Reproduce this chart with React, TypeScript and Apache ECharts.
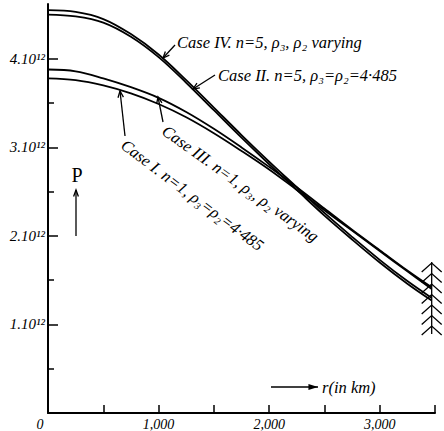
import React, { useEffect, useRef } from "react";
import * as echarts from "echarts";

// radius r (km)
const radii = [0, 250, 500, 750, 1000, 1250, 1500, 1750, 2000, 2250, 2500, 2750, 3000, 3250, 3470];
// pressure P in units of 10^12
const caseIV = [4.55, 4.53, 4.45, 4.28, 4.05, 3.76, 3.45, 3.14, 2.84, 2.55, 2.26, 1.99, 1.73, 1.49, 1.30];
const caseII = [4.5, 4.48, 4.41, 4.25, 4.02, 3.73, 3.42, 3.11, 2.81, 2.52, 2.23, 1.96, 1.7, 1.46, 1.27];
const caseIII = [3.88, 3.86, 3.78, 3.68, 3.56, 3.4, 3.21, 3.0, 2.78, 2.55, 2.31, 2.07, 1.84, 1.61, 1.42];
const caseI = [3.78, 3.76, 3.7, 3.61, 3.49, 3.34, 3.16, 2.96, 2.75, 2.52, 2.29, 2.06, 1.83, 1.6, 1.4];

const xLabelValues = [1000, 2000, 3000];
const xLabelTexts = ["1,000", "2,000", "3,000"];
const yLabelValues = [1, 2, 3, 4];
const yLabelTexts = ["1.10¹²", "2.10¹²", "3.10¹²", "4.10¹²"];
const yMinorValues = [0.5, 1.5, 2.5, 3.5];

const FONT = "'Liberation Serif', 'DejaVu Serif', serif";

function arrow(x1: number, y1: number, x2: number, y2: number, head = 7, spread = 0.4, filled = false) {
  const a = Math.atan2(y2 - y1, x2 - x1);
  const p1 = [x2 - head * Math.cos(a - spread), y2 - head * Math.sin(a - spread)];
  const p2 = [x2 - head * Math.cos(a + spread), y2 - head * Math.sin(a + spread)];
  const els: any[] = [
    { type: "line", shape: { x1, y1, x2, y2 }, style: { stroke: "#000", lineWidth: 1.3 }, silent: true },
  ];
  if (filled) {
    els.push({ type: "polygon", shape: { points: [p1, [x2, y2], p2] }, style: { fill: "#000" }, silent: true });
  } else {
    els.push({ type: "polyline", shape: { points: [p1, [x2, y2], p2] }, style: { stroke: "#000", lineWidth: 1.3, fill: null }, silent: true });
  }
  return els;
}

function label(text: string, x: number, y: number, size: number, rotDeg = 0, italic = true, align = "left") {
  return {
    type: "text",
    x,
    y,
    rotation: (rotDeg * Math.PI) / 180,
    silent: true,
    style: {
      text,
      fill: "#000",
      fontSize: size,
      fontFamily: FONT,
      fontStyle: italic ? "italic" : "normal",
      align,
      verticalAlign: "middle",
    },
  };
}

export default function App() {
  const ref = useRef<HTMLDivElement>(null);
  useEffect(() => {
    if (!ref.current) return;
    const chart = echarts.init(ref.current, null, { renderer: "svg" });
    const mk = (arr: number[]) => radii.map((r, i) => [r, arr[i]]);
    const lineSeries = (name: string, arr: number[]) => ({
      name,
      type: "line",
      data: mk(arr),
      smooth: 0.35,
      showSymbol: false,
      symbol: "none",
      xAxisIndex: 0,
      yAxisIndex: 0,
      lineStyle: { color: "#000", width: 1.8 },
      silent: true,
    });
    chart.setOption({
      animation: false,
      backgroundColor: "#fff",
      grid: { left: 48, right: 9, top: 4, bottom: 16, containLabel: false },
      xAxis: {
        type: "value",
        min: 0,
        max: 3500,
        interval: 500,
        axisLine: { show: true, lineStyle: { color: "#000", width: 2 } },
        axisTick: { show: true, inside: true, length: 8, lineStyle: { color: "#000", width: 1.5 } },
        splitLine: { show: false },
        axisLabel: {
          margin: 4,
          color: "#000",
          fontSize: 14,
          fontStyle: "italic",
          fontFamily: FONT,
          formatter: (v: number) => {
            const i = xLabelValues.indexOf(v);
            return i >= 0 ? xLabelTexts[i] : "";
          },
        },
      },
      yAxis: [
        {
          type: "value",
          min: 0,
          max: 4.62,
          interval: 1,
          position: "left",
          axisLine: { show: true, lineStyle: { color: "#000", width: 2 } },
          axisTick: { show: true, inside: true, length: 10, customValues: yLabelValues, lineStyle: { color: "#000", width: 1.5 } },
          splitLine: { show: false },
          axisLabel: {
            margin: 3,
            color: "#000",
            fontSize: 15,
            fontStyle: "italic",
            fontFamily: FONT,
            customValues: yLabelValues,
            formatter: (v: number) => {
              const i = yLabelValues.indexOf(v);
              return i >= 0 ? yLabelTexts[i] : "";
            },
          },
        },
        {
          type: "value",
          min: 0,
          max: 4.62,
          interval: 0.5,
          position: "left",
          axisLine: { show: false },
          axisTick: { show: true, inside: true, length: 6, customValues: yMinorValues, lineStyle: { color: "#000", width: 1.5 } },
          axisLabel: { show: false },
          splitLine: { show: false },
        },
      ],
      series: [
        lineSeries("Case IV", caseIV),
        lineSeries("Case II", caseII),
        lineSeries("Case III", caseIII),
        lineSeries("Case I", caseI),
      ],
    });

    const end = chart.convertToPixel({ xAxisIndex: 0, yAxisIndex: 0 }, [3470, 0]) as number[];
    const hx = end[0];
    const hatch: any[] = [
      { type: "line", shape: { x1: hx, y1: 262, x2: hx, y2: 334 }, style: { stroke: "#000", lineWidth: 1.3 }, silent: true },
    ];
    for (let k = 0; k < 7; k++) {
      const ay = 263 + k * 10.5;
      hatch.push({
        type: "polyline",
        shape: { points: [[hx - 10, ay + 9], [hx, ay], [hx + 10, ay + 9]] },
        style: { stroke: "#000", lineWidth: 1.3, fill: null },
        silent: true,
      });
    }

    const graphics: any[] = [
      label("Case IV. n=5, ρ₃, ρ₂ varying", 177, 42, 16.5),
      ...arrow(175, 45, 163, 58),
      label("Case II. n=5, ρ₃=ρ₂=4·485", 218, 75, 16.5),
      ...arrow(215, 75, 193, 89),
      label("Case III. n=1, ρ₃, ρ₂ varying", 164, 129, 16.5, -35.5),
      ...arrow(163, 122, 158, 97),
      label("Case I. n=1, ρ₃=ρ₂=4·485", 123, 143, 16.5, -37),
      ...arrow(125, 136, 120, 91),
      label("P", 77, 175, 20, 0, false, "center"),
      ...arrow(76, 236, 76, 190, 7, 0.35),
      ...arrow(271, 387, 318, 387, 10, 0.3, true),
      label("r(in km)", 322, 387, 16.5),
      label("0", 40, 424, 14, 0, true, "center"),
      ...hatch,
    ];
    chart.setOption({ graphic: graphics });
    return () => chart.dispose();
  }, []);
  return <div ref={ref} style={{ position: "fixed", left: 0, top: 0, width: 444, height: 431 }} />;
}
